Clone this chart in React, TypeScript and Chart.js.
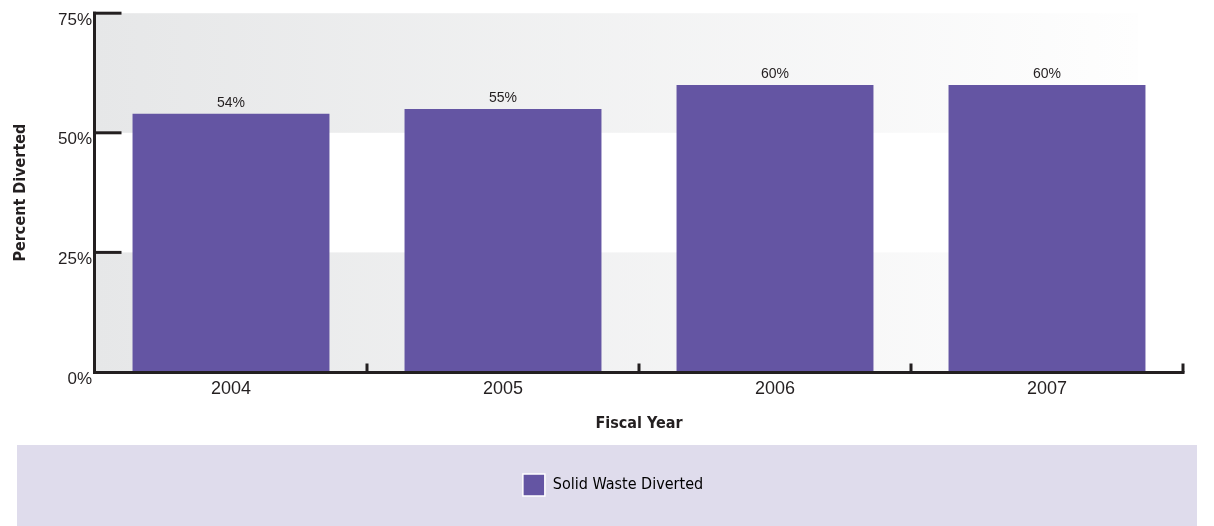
import React, { useEffect, useRef } from "react";
import { Chart, registerables } from "chart.js";

Chart.register(...registerables);

const categories = ["2004", "2005", "2006", "2007"];
const divertedValues = [54, 55, 60, 60];
const yTickValues = [0, 25, 50, 75];
const seriesLabel = "Solid Waste Diverted";
const xTitle = "Fiscal Year";
const yTitle = "Percent Diverted";

const BAR_COLOR = "#6455a3";
const INK = "#231f20";
const NARROW = "'Liberation Sans Narrow', 'Arial Narrow', 'DejaVu Sans Condensed', sans-serif";
const REG = "'Liberation Sans', Arial, Helvetica, sans-serif";

const decorPlugin = {
  id: "decor",
  afterLayout(chart: any) {
    if (chart.legend) {
      chart.legend.left = 43;
    }
  },
  beforeDraw(chart: any) {
    const ctx = chart.ctx;
    const lg = chart.legend;
    if (lg && lg.legendHitBoxes && lg.legendHitBoxes[0]) {
      const top = lg.legendHitBoxes[0].top - 29;
      ctx.save();
      ctx.fillStyle = "#dfdcec";
      ctx.fillRect(17, top, 1180, chart.height - top);
      ctx.restore();
    }
  },
  beforeDatasetsDraw(chart: any) {
    const ctx = chart.ctx;
    const ca = chart.chartArea;
    const y = chart.scales.y;
    const bandRight = ca.right - 45;
    const bands = [
      [50, 75],
      [0, 25],
    ];
    ctx.save();
    bands.forEach(([lo, hi]) => {
      const top = y.getPixelForValue(hi);
      const bot = y.getPixelForValue(lo);
      const g = ctx.createLinearGradient(ca.left, 0, bandRight, 0);
      g.addColorStop(0, "#e6e7e8");
      g.addColorStop(1, "#fefefe");
      ctx.fillStyle = g;
      ctx.fillRect(ca.left, top, bandRight - ca.left, bot - top);
    });
    ctx.restore();
  },
  afterDatasetsDraw(chart: any) {
    const ctx = chart.ctx;
    const ca = chart.chartArea;
    const ys = chart.scales.y;
    const xs = chart.scales.x;
    ctx.save();
    // value labels
    const meta = chart.getDatasetMeta(0);
    ctx.fillStyle = INK;
    ctx.font = `14px ${REG}`;
    ctx.textAlign = "center";
    ctx.textBaseline = "alphabetic";
    meta.data.forEach((bar: any, i: number) => {
      ctx.fillText(divertedValues[i] + "%", bar.x, bar.y - 7);
    });
    // axes
    ctx.strokeStyle = INK;
    ctx.lineWidth = 3;
    ctx.lineCap = "butt";
    const axX = ca.left - 0.5;
    const topY = ys.getPixelForValue(75);
    const botY = ys.getPixelForValue(0) + 0.5;
    ctx.beginPath();
    ctx.moveTo(axX, topY - 1.5);
    ctx.lineTo(axX, botY + 1.5);
    ctx.stroke();
    yTickValues.slice(1).forEach((v) => {
      const py = ys.getPixelForValue(v);
      ctx.beginPath();
      ctx.moveTo(axX - 1.5, py);
      ctx.lineTo(axX + 27, py);
      ctx.stroke();
    });
    ctx.beginPath();
    ctx.moveTo(axX - 1.5, botY);
    ctx.lineTo(ca.right + 1.5, botY);
    ctx.stroke();
    for (let i = 0; i < categories.length; i++) {
      const px =
        i < categories.length - 1
          ? (xs.getPixelForValue(i) + xs.getPixelForValue(i + 1)) / 2
          : ca.right;
      ctx.beginPath();
      ctx.moveTo(px, botY);
      ctx.lineTo(px, botY - 9);
      ctx.stroke();
    }
    ctx.restore();
  },
};

export default function App() {
  const ref = useRef<HTMLCanvasElement | null>(null);
  useEffect(() => {
    if (!ref.current) return;
    const chart = new Chart(ref.current, {
      type: "bar",
      data: {
        labels: categories,
        datasets: [
          {
            label: seriesLabel,
            data: divertedValues,
            backgroundColor: BAR_COLOR,
            borderWidth: 0,
            categoryPercentage: 1,
            barPercentage: 0.724,
          },
        ],
      },
      options: {
        responsive: false,
        animation: false,
        devicePixelRatio: 1,
        layout: { padding: { top: 12, right: 31, bottom: 20, left: 0 } },
        plugins: {
          tooltip: { enabled: false },
          legend: {
            position: "bottom",
            labels: {
              boxWidth: 22,
              boxHeight: 22,
              padding: 30,
              color: INK,
              font: { family: NARROW, size: 16 },
              generateLabels: () => [
                {
                  text: seriesLabel,
                  fillStyle: BAR_COLOR,
                  strokeStyle: "#ffffff",
                  lineWidth: 1.5,
                  hidden: false,
                  datasetIndex: 0,
                },
              ],
            },
          },
        },
        scales: {
          x: {
            grid: { display: false, drawTicks: false },
            border: { display: false },
            ticks: { color: INK, font: { family: REG, size: 18 }, padding: 6 },
            title: {
              display: true,
              text: xTitle,
              color: INK,
              font: { family: NARROW, size: 16, weight: "bold" },
              padding: { top: 0, bottom: 11 },
            },
            afterFit: (s: any) => {
              s.height = 72;
            },
          },
          y: {
            min: 0,
            max: 75,
            grid: { display: false, drawTicks: false },
            border: { display: false },
            afterBuildTicks: (s: any) => {
              s.ticks = yTickValues.map((v) => ({ value: v }));
            },
            ticks: {
              color: INK,
              font: { family: REG, size: 17 },
              padding: 3,
              labelOffset: 7,
              callback: (v: any) => v + "%",
            },
            title: {
              display: true,
              text: yTitle,
              color: INK,
              font: { family: NARROW, size: 16, weight: "bold" },
              padding: { top: 11, bottom: 0 },
            },
            afterFit: (s: any) => {
              s.width = 95;
            },
          },
        },
      },
      plugins: [decorPlugin],
    } as any);
    return () => chart.destroy();
  }, []);
  return (
    <div style={{ position: "absolute", left: 0, top: 0, width: 1214, height: 526, background: "#fff" }}>
      <canvas ref={ref} width={1214} height={526} />
    </div>
  );
}
